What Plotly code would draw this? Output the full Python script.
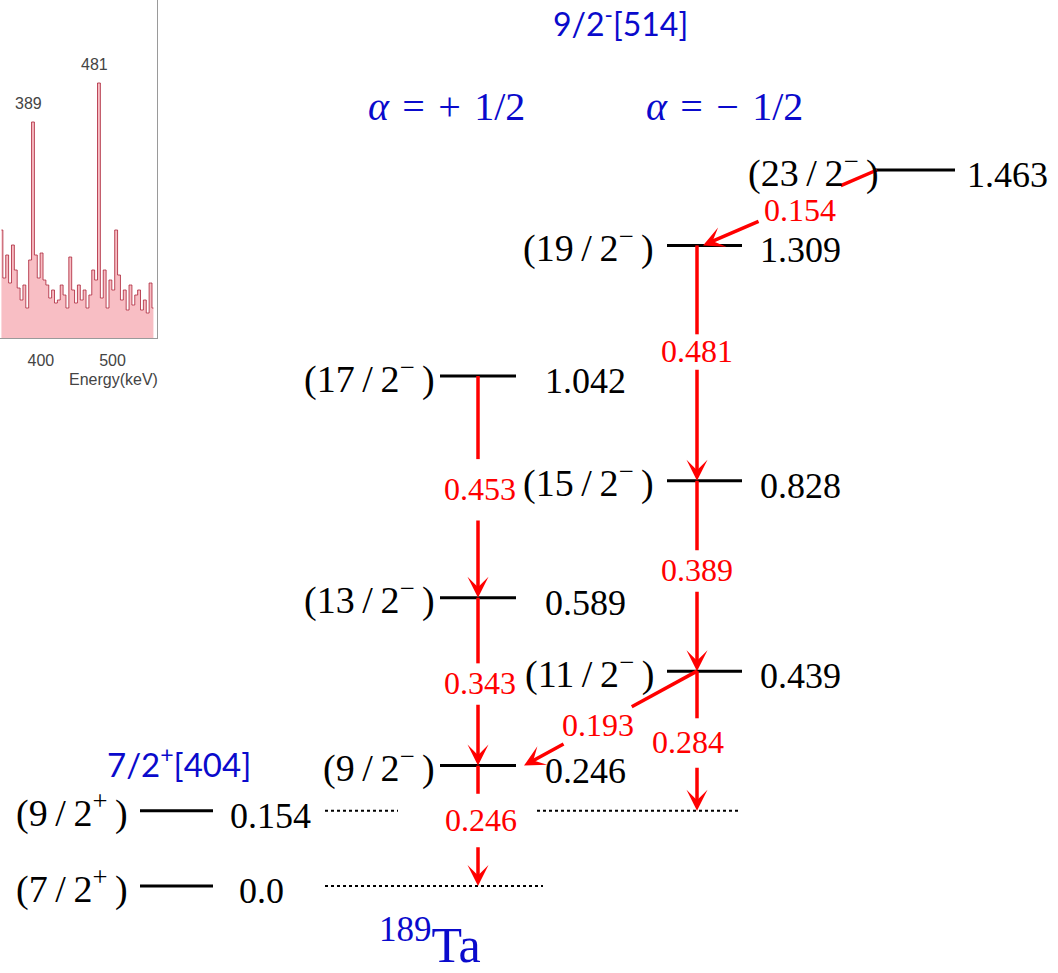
import math
import plotly.graph_objects as go

# ---------------- level scheme of 189Ta (energies in MeV) ----------------
level_spin = ["7/2+", "9/2+", "9/2−", "13/2−", "17/2−", "11/2−", "15/2−", "19/2−", "23/2−"]
level_energy = [0.0, 0.154, 0.246, 0.589, 1.042, 0.439, 0.828, 1.309, 1.463]
level_column = ["gs", "gs", "fav", "fav", "fav", "unf", "unf", "unf", "top"]

gamma_energy = [0.154, 0.481, 0.389, 0.284, 0.193, 0.453, 0.343, 0.246]
gamma_from = ["23/2−", "19/2−", "15/2−", "11/2−", "11/2−", "17/2−", "13/2−", "9/2−"]
gamma_to = ["19/2−", "15/2−", "11/2−", "9/2+", "9/2−", "13/2−", "9/2−", "7/2+"]

# ---------------- inset gamma-ray spectrum ----------------
spec_energy_keV = [345, 349, 353, 357, 361, 365, 369, 373, 377, 381, 385, 389, 393, 397,
                   401, 405, 409, 413, 417, 421, 425, 429, 433, 437, 441, 445, 449, 453,
                   457, 461, 465, 469, 473, 477, 481, 485, 489, 493, 497, 501, 505, 509,
                   513, 517, 521, 525, 529, 533, 537, 541, 545, 549, 553, 557]
spec_counts = [108, 60, 83, 55, 93, 68, 50, 38, 53, 30, 78, 216, 83, 60,
               85, 58, 53, 40, 48, 35, 38, 53, 43, 30, 81, 48, 35, 53,
               38, 48, 30, 43, 68, 58, 255, 40, 68, 30, 58, 48, 108, 63,
               38, 48, 28, 53, 33, 43, 48, 28, 38, 25, 55, 30]
spec_peaks_keV = [389, 481]

# ---------------- drawing constants ----------------
W, H = 1058, 973
PX_PER_MEV = 489.4          # vertical scale of the level scheme
BASE_PX = 886               # pixel row of the ground state
Y_MAX = BASE_PX / PX_PER_MEV
Y_MIN = -(H - BASE_PX) / PX_PER_MEV

BLACK = "#000000"
RED = "#ff0000"
BLUE = "#0a0acc"
SERIF = "Liberation Serif"
SANS = "Lato"
THIN = "\u2009"
MID = "\u2004"

COLUMNS = {
    "gs":  dict(x0=140, x1=213, spin_x=130, label_x=228, gamma_x=None),
    "fav": dict(x0=440, x1=516, spin_x=437, label_x=543, gamma_x=478),
    "unf": dict(x0=667, x1=742, spin_x=656, label_x=758, gamma_x=697),
    "top": dict(x0=875, x1=955, spin_x=881, label_x=965, gamma_x=None),
}
DOTTED = {"7/2+": [(325, 543)], "9/2+": [(325, 398), (537, 741)]}

GAMMA_PATH = {
    "0.154": dict(x_tail=877, x_head=703, t=0.44, gap=44, dx=0, dy=7),
    "0.481": dict(t=0.45, gap=17),
    "0.389": dict(t=0.47, gap=20),
    "0.284": dict(t=0.51, gap=24, dx=-9),
    "0.193": dict(x_tail=697, x_head=524, t=0.57, gap=38),
    "0.453": dict(t=0.51, gap=30, dx=2),
    "0.343": dict(t=0.51, gap=20, dx=2),
    "0.246": dict(t=0.45, gap=26, dx=3),
}


def e_to_py(e):
    return BASE_PX - PX_PER_MEV * e


def py_to_e(py):
    return (BASE_PX - py) / PX_PER_MEV


def spin_html(s):
    num, den = s[:-1].split("/")
    return "(" + num + THIN + "/" + THIN + den + "<sup>" + s[-1] + "</sup>" + THIN + ")"


energy_of = dict(zip(level_spin, level_energy))
column_of = dict(zip(level_spin, level_column))

fig = go.Figure()
shapes = []
annotations = []

# ---- levels ----
for spin, e, col in zip(level_spin, level_energy, level_column):
    c = COLUMNS[col]
    shapes.append(dict(type="line", xref="x", yref="y", x0=c["x0"], x1=c["x1"], y0=e, y1=e,
                       line=dict(color=BLACK, width=3)))
    for xa, xb in DOTTED.get(spin, []):
        shapes.append(dict(type="line", xref="x", yref="y", x0=xa, x1=xb, y0=e, y1=e,
                           line=dict(color=BLACK, width=2, dash="dot")))
    annotations.append(dict(x=c["spin_x"], y=e, xref="x", yref="y", text=spin_html(spin),
                            showarrow=False, xanchor="right", yanchor="middle", yshift=0,
                            font=dict(family=SERIF, size=38, color=BLACK)))
    label = "0.0" if e == 0 else f"{e:.3f}"
    lx = c["label_x"] + (9 if e == 0 else 0)
    annotations.append(dict(x=lx, y=e, xref="x", yref="y", text=label,
                            showarrow=False, xanchor="left", yanchor="middle", yshift=-5,
                            font=dict(family=SERIF, size=36, color=BLACK)))

# ---- transitions ----
for eg, src, dst in zip(gamma_energy, gamma_from, gamma_to):
    key = f"{eg:.3f}"
    p = GAMMA_PATH[key]
    col_x = COLUMNS[column_of[src]]["gamma_x"]
    xt = p.get("x_tail", col_x)
    xh = p.get("x_head", col_x)
    yt = e_to_py(energy_of[src])
    yh = e_to_py(energy_of[dst])
    L = math.hypot(xh - xt, yh - yt)
    ux, uy = (xh - xt) / L, (yh - yt) / L
    mx, my = xt + ux * p["t"] * L, yt + uy * p["t"] * L
    g0 = (mx - ux * p["gap"], my - uy * p["gap"])
    g1 = (mx + ux * p["gap"], my + uy * p["gap"])
    shapes.append(dict(type="line", xref="x", yref="y", x0=xt, y0=py_to_e(yt),
                       x1=g0[0], y1=py_to_e(g0[1]), line=dict(color=RED, width=3.5)))
    annotations.append(dict(x=xh, y=py_to_e(yh), ax=g1[0], ay=py_to_e(g1[1]),
                            xref="x", yref="y", axref="x", ayref="y", text="",
                            showarrow=True, arrowhead=3, arrowsize=1.0, arrowwidth=3.5,
                            arrowcolor=RED, standoff=0, startstandoff=0))
    annotations.append(dict(x=mx + p.get("dx", 0), y=py_to_e(my + p.get("dy", 0)),
                            xref="x", yref="y", text=key, showarrow=False,
                            xanchor="center", yanchor="middle",
                            font=dict(family=SERIF, size=32, color=RED)))

# ---- band headings and nucleus label ----
for txt, x, py, fam, size in [
    ("9/2<sup>-</sup>[514]", 620, 22, SANS, 32),
    ("7/2<sup>+</sup>[404]", 179, 762, SANS, 33),
    ("<i>α</i>" + MID + "=" + MID + "+" + MID + "1/2", 446, 106, SERIF, 40),
    ("<i>α</i>" + MID + "=" + MID + "−" + MID + "1/2", 724, 106, SERIF, 40),
    ("<sup>189</sup>Ta", 430, 941, SERIF, 50),
]:
    annotations.append(dict(x=x, y=py_to_e(py), xref="x", yref="y", text=txt,
                            showarrow=False, xanchor="center", yanchor="middle",
                            font=dict(family=fam, size=size, color=BLUE)))

# ---- inset spectrum ----
fig.add_trace(go.Scatter(x=spec_energy_keV, y=spec_counts, xaxis="x2", yaxis="y2",
                         mode="lines", line=dict(shape="hvh", color="rgba(175,45,65,0.85)", width=1),
                         fill="tozeroy", fillcolor="rgba(240,110,125,0.45)",
                         hoverinfo="skip", showlegend=False))
for pk in spec_peaks_keV:
    cnt = spec_counts[spec_energy_keV.index(pk)]
    annotations.append(dict(x=pk, y=cnt, xref="x2", yref="y2", text=str(pk), showarrow=False,
                            xanchor="center", yanchor="bottom", yshift=8, xshift=-4,
                            font=dict(family="Liberation Sans", size=16, color="#444444")))
annotations.append(dict(x=113 / W, y=1 - 380 / H, xref="paper", yref="paper",
                        text="Energy(keV)", showarrow=False, xanchor="center", yanchor="middle",
                        font=dict(family="Liberation Sans", size=16, color="#444444")))

fig.update_layout(
    width=W, height=H,
    margin=dict(l=0, r=0, t=0, b=0),
    paper_bgcolor="white", plot_bgcolor="rgba(0,0,0,0)",
    showlegend=False,
    shapes=shapes, annotations=annotations,
    xaxis=dict(range=[0, W], domain=[0, 1], visible=False, fixedrange=True),
    yaxis=dict(range=[Y_MIN, Y_MAX], domain=[0, 1], visible=False, fixedrange=True),
    xaxis2=dict(domain=[0, 157 / W], range=[343, 562], anchor="y2", showline=True,
                linecolor="#9a9a9a", linewidth=1, tickvals=[400, 500], ticks="",
                ticklabelstandoff=8, tickfont=dict(family="Liberation Sans", size=16, color="#444444"),
                showgrid=False, zeroline=False),
    yaxis2=dict(domain=[1 - 338 / H, 1], range=[0, 338], anchor="x2", side="right",
                showline=True, linecolor="#9a9a9a", linewidth=1, showticklabels=False,
                ticks="", showgrid=False, zeroline=False),
)

fig.write_html("out.html")
